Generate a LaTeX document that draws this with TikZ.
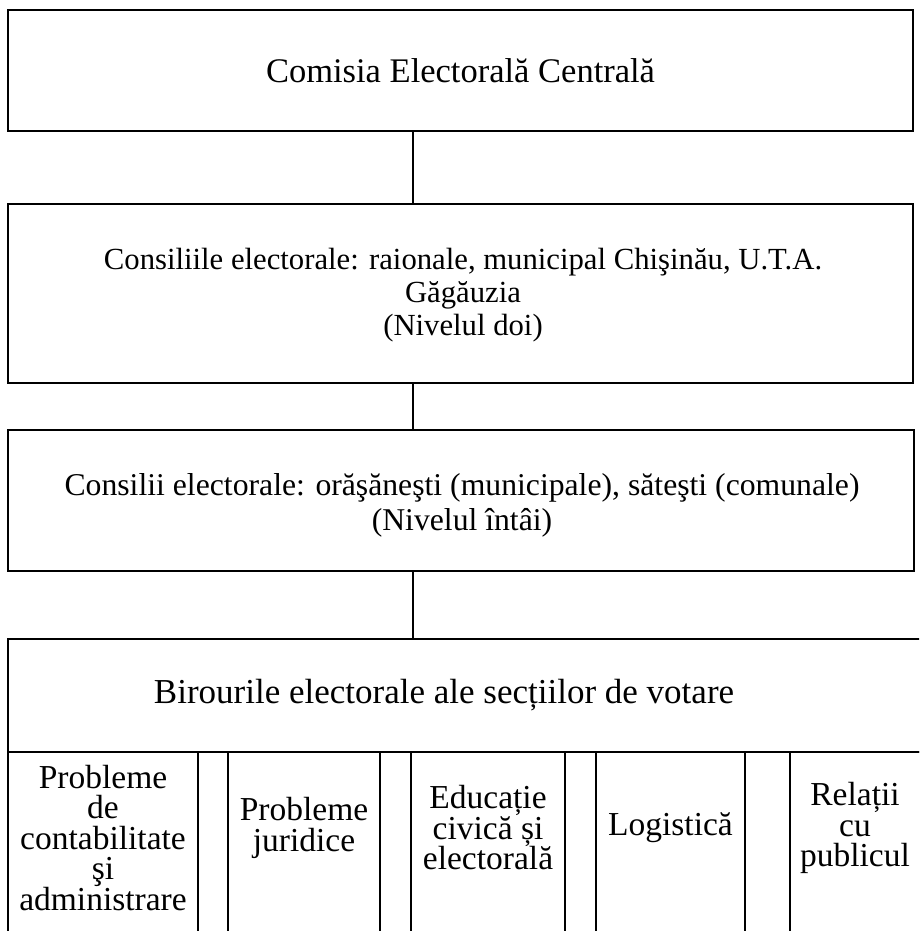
\documentclass[tikz,border=0pt]{standalone}
\usepackage{fontspec}
\setmainfont{Liberation Serif}
\begin{document}
\begin{tikzpicture}[x=1pt,y=1pt,
  frame/.style={draw, line width=1.8pt, inner sep=0pt, outer sep=0pt},
  bigtxt/.style={align=center, inner sep=0pt},
  celltxt/.style={font=\fontsize{33.5}{30.5}\selectfont, align=center, inner sep=0pt},
  link/.style={line width=1.8pt}]
\useasboundingbox (0,0) rectangle (919,-931);
\clip (0,0) rectangle (919,-931);
\coordinate (cx) at (413,0);
% level boxes
\node[frame, bigtxt, font=\fontsize{34.5}{34}\selectfont, minimum width=905pt, minimum height=121pt] (cec) at (460.5,-70.5)
  {Comisia Electorală Centrală};
\node[frame, minimum width=905pt, minimum height=179pt] (c2) at (460.5,-293.5) {};
\node[bigtxt, font=\fontsize{30.7}{33}\selectfont] (c2t) at (463,-295)
  {Consiliile electorale: raionale, municipal Chişinău, U.T.A.\\Găgăuzia\\(Nivelul doi)};
\node[frame, minimum width=906pt, minimum height=141pt] (c1) at (461,-500.5) {};
\node[bigtxt, font=\fontsize{31.7}{35}\selectfont] (c1t) at (462,-505)
  {Consilii electorale: orăşăneşti (municipale), săteşti (comunale)\\(Nivelul întâi)};
% bottom table
\node[frame, minimum width=917pt, minimum height=113pt] (bir) at (466.5,-695.5) {};
\node[bigtxt, font=\fontsize{35}{35}\selectfont] (birt) at (444,-695.5)
  {Birourile electorale ale secțiilor de votare};
\node[frame, minimum width=190pt, minimum height=190pt, anchor=north west] (k1) at (8,-752) {};
\node[frame, minimum width=30pt, minimum height=190pt, anchor=north west] (g1) at (198,-752) {};
\node[frame, minimum width=152pt, minimum height=190pt, anchor=north west] (k2) at (228,-752) {};
\node[frame, minimum width=31pt, minimum height=190pt, anchor=north west] (g2) at (380,-752) {};
\node[frame, minimum width=154pt, minimum height=190pt, anchor=north west] (k3) at (411,-752) {};
\node[frame, minimum width=31pt, minimum height=190pt, anchor=north west] (g3) at (565,-752) {};
\node[frame, minimum width=149pt, minimum height=190pt, anchor=north west] (k4) at (596,-752) {};
\node[frame, minimum width=45pt, minimum height=190pt, anchor=north west] (g4) at (745,-752) {};
\node[frame, minimum width=140pt, minimum height=190pt, anchor=north west] (k5) at (790,-752) {};
\node[celltxt] (t1) at (103,-838) {Probleme\\de\\contabilitate\\şi\\administrare};
\node[celltxt] (t2) at (304,-828) {Probleme\\juridice};
\node[celltxt] (t3) at (488,-828) {Educație\\civică și\\electorală};
\node[celltxt] (t4) at (670.5,-828) {Logistică};
\node[celltxt] (t5) at (855,-828) {Relații\\cu\\publicul};
% connectors
\draw[link] (cec.south -| cx) -- (c2.north -| cx);
\draw[link] (c2.south -| cx) -- (c1.north -| cx);
\draw[link] (c1.south -| cx) -- (bir.north -| cx);
\end{tikzpicture}
\end{document}
